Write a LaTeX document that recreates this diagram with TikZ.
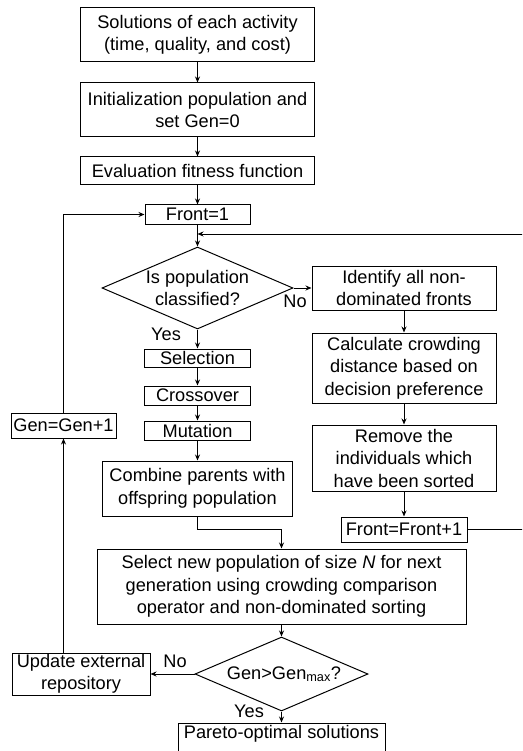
\documentclass[tikz,border=0pt]{standalone}
\usepackage{fontspec}
\setmainfont{Liberation Sans}
\usetikzlibrary{shapes.geometric,arrows.meta}
\begin{document}
\begin{tikzpicture}[x=1pt,y=-1pt,
  txt/.style={font=\fontsize{18.2}{22.5}\selectfont},
  box/.style={txt,draw,line width=1pt,inner sep=0pt,align=center},
  dia/.style={draw,line width=1pt,diamond,inner sep=0pt},
  lbl/.style={txt,inner sep=0pt,align=center},
  conn/.style={line width=1pt,-{Stealth[length=6pt,width=5pt]}}]
\useasboundingbox (0,0) rectangle (522,751);
\clip (0,0) rectangle (522,751);

% left column
\node[box,minimum width=234pt,minimum height=54pt] (b1) at (197.5,35) {Solutions of each activity\\(time, quality, and cost)};
\node[box,minimum width=234pt,minimum height=54pt] (b2) at (197.5,110) {Initialization population and\\set Gen=0};
\node[box,minimum width=234pt,minimum height=28pt] (b3) at (197.5,171) {Evaluation fitness function};
\node[box,minimum width=105pt,minimum height=19pt] (f1) at (197.5,214.5) {Front=1};
\node[dia,minimum width=191pt,minimum height=82pt] (d1) at (197.5,288) {};
\node[lbl] (d1t) at (197.5,288) {Is population\\classified?};
\node[box,minimum width=106pt,minimum height=18pt] (sel) at (197.5,358) {Selection};
\node[box,minimum width=106pt,minimum height=19pt] (cro) at (197.5,395.5) {Crossover};
\node[box,minimum width=106pt,minimum height=19pt] (mut) at (197.5,430.5) {Mutation};
\node[box,minimum width=190pt,minimum height=55pt] (cmb) at (197.5,488.5) {Combine parents with\\offspring population};

% right column
\node[box,minimum width=184pt,minimum height=44pt] (id) at (404,288) {Identify all non-\\dominated fronts};
\node[box,minimum width=184pt,minimum height=70pt] (cc) at (404,368) {Calculate crowding\\distance based on\\decision preference};
\node[box,minimum width=184pt,minimum height=66pt] (rm) at (404,458) {Remove the\\individuals which\\have been sorted};
\node[box,minimum width=126pt,minimum height=25pt] (ff) at (404,529.5) {Front=Front+1};

% bottom
\node[box,minimum width=369pt,minimum height=75pt] (sn) at (281.5,586.5) {Select new population of size \textit{N} for next\\generation using crowding comparison\\operator and non-dominated sorting};
\node[dia,minimum width=173pt,minimum height=74pt] (d2) at (281.5,674) {};
\node[lbl] (d2t) at (284,674) {Gen>Gen\textsubscript{max}?};
\node[box,minimum width=138pt,minimum height=42pt] (up) at (81,674) {Update external\\repository};
\node[box,minimum width=207pt,text height=15pt,text depth=15pt] (po) at (281.5,738) {Pareto-optimal solutions};
\node[box,minimum width=105pt,minimum height=25pt] (gg) at (63.5,425.5) {Gen=Gen+1};

% labels
\node[lbl] (no1) at (295,301) {No};
\node[lbl] (yes1) at (166,334) {Yes};
\node[lbl] (no2) at (175,661) {No};
\node[lbl] (yes2) at (249,711) {Yes};

% helper coordinates
\coordinate (jn) at (197.5,234);
\coordinate (rtop) at (527,234);
\coordinate (cm1) at (197.5,529);

% connectors
\draw[conn] (b1) -- (b2);
\draw[conn] (b2) -- (b3);
\draw[conn] (b3) -- (f1);
\draw[conn] (f1) -- (d1);
\draw[conn] (d1.east) -- (id.west);
\draw[conn] (d1.south) -- (sel.north);
\draw[conn] (sel) -- (cro);
\draw[conn] (cro) -- (mut);
\draw[conn] (mut) -- (cmb);
\draw[conn] (id) -- (cc);
\draw[conn] (cc) -- (rm);
\draw[conn] (rm) -- (ff);
\draw[conn] (ff.east) -- (ff.east -| rtop) -- (rtop) -- (jn);
\draw[conn] (cmb.south) -- (cm1) -| (sn.north);
\draw[conn] (sn) -- (d2);
\draw[conn] (d2.west) -- (up.east);
\draw[conn] (d2.south) -- (po.north);
\draw[conn] (up.north -| gg) -- (gg.south);
\draw[conn] (gg.north) |- (f1.west);
\end{tikzpicture}
\end{document}
